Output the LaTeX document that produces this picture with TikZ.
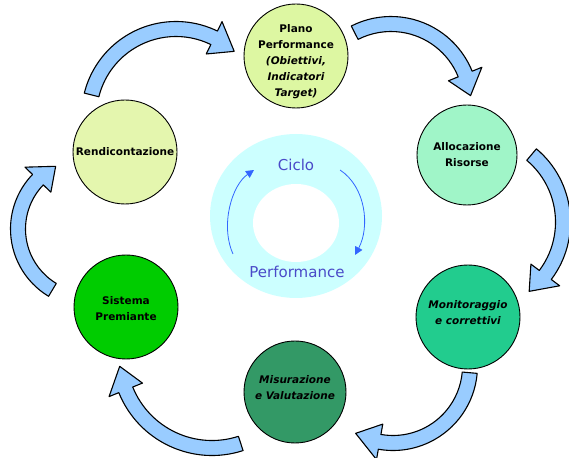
\documentclass[tikz,border=0pt]{standalone}
\usepackage{fontspec}
\setmainfont{DejaVu Sans}
\usetikzlibrary{arrows.meta}
\definecolor{cplano}{HTML}{DDF7A2}
\definecolor{crend}{HTML}{E4F6AE}
\definecolor{calloc}{HTML}{A0F5C8}
\definecolor{cmonit}{HTML}{22CC8E}
\definecolor{cmisur}{HTML}{339966}
\definecolor{csist}{HTML}{00CC00}
\definecolor{carrow}{HTML}{99CCFF}
\definecolor{cring}{HTML}{CCFFFF}
\definecolor{ctext}{HTML}{4A4AC8}
\definecolor{cline}{HTML}{3366FF}
\newcommand\blockarr[6]{%
 \pgfmathsetmacro\bro{#3+7.5}\pgfmathsetmacro\bri{#3-7.5}%
 \pgfmathsetmacro\bho{#3+18}\pgfmathsetmacro\bhi{#3-18}%
 \draw[barrow] ([shift={(#4:\bro)}]#1,#2) arc[start angle=#4,end angle=#5,radius=\bro pt]
   -- ([shift={(#5:\bho)}]#1,#2) -- ([shift={(#6:#3)}]#1,#2)
   -- ([shift={(#5:\bhi)}]#1,#2) -- ([shift={(#5:\bri)}]#1,#2)
   arc[start angle=#5,end angle=#4,radius=\bri pt] -- cycle;}
\begin{document}
\begin{tikzpicture}[x=1pt,y=1pt,
  bub/.style={circle,draw=black,line width=0.9pt,inner sep=0pt,minimum size=104pt},
  txt/.style={align=center,inner sep=0pt,font=\fontsize{10.5}{16}\selectfont\bfseries,text=black},
  barrow/.style={fill=carrow,draw=black,line width=1.1pt,line join=round},
  smallarc/.style={draw=cline,line width=0.8pt,-{Triangle[length=8pt,width=8pt,fill=cline]}},
  ctr/.style={text=ctext,inner sep=0pt,font=\fontsize{15}{18}\selectfont}]
\useasboundingbox (0,0) rectangle (569,457);
% central ring
\fill[cring] (296,241) ellipse [x radius=86pt,y radius=82pt];
\fill[white] (296,234) ellipse [x radius=43pt,y radius=39pt];
\node[ctr] (ciclo) at (296,292) {Ciclo};
\node[ctr] (perf) at (297,185) {Performance};
\coordinate (la) at (233,203); \coordinate (lb) at (254,287);
\coordinate (ra) at (340,287); \coordinate (rb) at (355,202);
\draw[smallarc] (la) .. controls (220,232) and (232,272) .. (lb);
\draw[smallarc] (ra) .. controls (366,270) and (370,230) .. (rb);
% circles
\node[bub,fill=cplano] (plano) at (296,401) {};
\node[bub,fill=calloc,minimum size=100pt] (alloc) at (467,302) {};
\node[bub,fill=cmonit] (monit) at (468,140) {};
\node[bub,fill=cmisur,minimum size=102pt] (misur) at (295,65) {};
\node[bub,fill=csist] (sist) at (126,150) {};
\node[bub,fill=crend] (rend) at (125,305) {};
\node[txt] (planot) at ([yshift=-6pt]plano.center) {Plano\\Performance\\\textit{(Obiettivi,}\\\textit{Indicatori}\\\textit{Target)}};
\node[txt] (alloct) at (alloc.center) {Allocazione\\Risorse};
\node[txt] (monitt) at ([yshift=4pt]monit.center) {\textit{Monitoraggio}\\\textit{e correttivi}};
\node[txt] (misurt) at ([yshift=4pt]misur.center) {\textit{Misurazione}\\\textit{e Valutazione}};
\node[txt] (sistt) at ([yshift=-2pt]sist.center) {Sistema\\Premiante};
\node[txt] (rendt) at (rend.center) {Rendicontazione};
% block arrows
\blockarr{176}{341}{87}{166}{64}{48}
\blockarr{391}{353}{80}{117}{22}{6}
\blockarr{475}{235}{88}{50}{-37}{-52}
\blockarr{393}{91}{77}{-5}{-100}{-119}
\blockarr{212}{102}{93}{-72}{-158}{-173}
\blockarr{89}{228}{71}{-121}{-224}{-242}
\end{tikzpicture}
\end{document}
